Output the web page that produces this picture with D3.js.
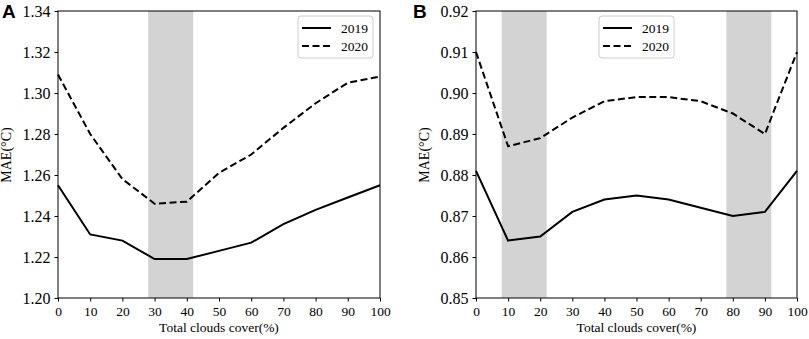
<!DOCTYPE html>
<html>
<head>
<meta charset="utf-8">
<script src="https://cdn.jsdelivr.net/npm/d3@7"></script>
<style>
  body { margin: 0; background: #fff; }
  svg text { font-family: "Liberation Serif", "Times New Roman", serif; fill: #000; }
  .panel-label { font-family: "Liberation Sans", Arial, sans-serif; font-weight: bold; }
</style>
</head>
<body>
<div id="chart"></div>
<script>
// cloud cover categories (%)
var cloudCover = [0, 10, 20, 30, 40, 50, 60, 70, 80, 90, 100];

// panel A
var maeA2019 = [1.255, 1.231, 1.228, 1.219, 1.219, 1.223, 1.227, 1.236, 1.243, 1.249, 1.255];
var maeA2020 = [1.309, 1.280, 1.258, 1.246, 1.247, 1.261, 1.270, 1.283, 1.295, 1.305, 1.308];
var ticksA = [1.20, 1.22, 1.24, 1.26, 1.28, 1.30, 1.32, 1.34];
var shadeA = [[28, 42]];

// panel B
var maeB2019 = [0.881, 0.864, 0.865, 0.871, 0.874, 0.875, 0.874, 0.872, 0.870, 0.871, 0.881];
var maeB2020 = [0.910, 0.887, 0.889, 0.894, 0.898, 0.899, 0.899, 0.898, 0.895, 0.890, 0.910];
var ticksB = [0.85, 0.86, 0.87, 0.88, 0.89, 0.90, 0.91, 0.92];
var shadeB = [[8, 22], [78, 92]];

var xTicks = [0, 10, 20, 30, 40, 50, 60, 70, 80, 90, 100];

var svg = d3.select("#chart").append("svg")
    .attr("width", 809)
    .attr("height", 339);

function drawPanel(opt) {
    var x = d3.scaleLinear().domain([0, 100]).range([opt.left, opt.right]);
    var y = d3.scaleLinear().domain([opt.yTicks[0], opt.yTicks[opt.yTicks.length - 1]]).range([298, 11]);
    var g = svg.append("g");

    // shaded spans
    g.selectAll("rect.shade").data(opt.shade).enter().append("rect")
        .attr("class", "shade")
        .attr("x", d => x(d[0]))
        .attr("width", d => x(d[1]) - x(d[0]))
        .attr("y", 11)
        .attr("height", 298 - 11)
        .attr("fill", "#d3d3d3");

    var line = d3.line().x((d, i) => x(cloudCover[i])).y(d => y(d));

    g.append("path").datum(opt.s2019)
        .attr("d", line).attr("fill", "none")
        .attr("stroke", "#000").attr("stroke-width", 2);
    g.append("path").datum(opt.s2020)
        .attr("d", line).attr("fill", "none")
        .attr("stroke", "#000").attr("stroke-width", 2)
        .attr("stroke-dasharray", "7,3.5");

    // frame
    g.append("rect")
        .attr("x", opt.left).attr("y", 11)
        .attr("width", opt.right - opt.left).attr("height", 298 - 11)
        .attr("fill", "none").attr("stroke", "#000").attr("stroke-width", 1);

    var xAxis = g.append("g")
        .attr("transform", "translate(0,298)")
        .call(d3.axisBottom(x).tickValues(xTicks).tickSize(3.5).tickPadding(5).tickFormat(d3.format("d")));
    xAxis.select(".domain").remove();
    xAxis.selectAll("text").style("font-size", "13.5px");

    var yAxis = g.append("g")
        .attr("transform", "translate(" + opt.left + ",0)")
        .call(d3.axisLeft(y).tickValues(opt.yTicks).tickSize(3.5).tickPadding(4).tickFormat(d3.format(".2f")));
    yAxis.select(".domain").remove();
    yAxis.selectAll("text").style("font-size", "16px");

    g.append("text")
        .attr("x", (opt.left + opt.right) / 2)
        .attr("y", 332)
        .attr("text-anchor", "middle")
        .style("font-size", "13.5px")
        .text("Total clouds cover(%)");

    g.append("text")
        .attr("transform", "translate(" + (opt.left - 47) + ",155) rotate(-90)")
        .attr("text-anchor", "middle")
        .style("font-size", "14px")
        .text("MAE(\u00B0C)");

    g.append("text")
        .attr("class", "panel-label")
        .attr("x", opt.labelX)
        .attr("y", 18)
        .style("font-size", "19px")
        .text(opt.label);

    // legend
    var lg = g.append("g").attr("transform", "translate(" + opt.legendX + ",16)");
    lg.append("rect")
        .attr("width", 75).attr("height", 42).attr("rx", 3)
        .attr("fill", "#fff").attr("stroke", "#ccc").attr("stroke-width", 1);
    var items = [{ name: "2019", dash: null }, { name: "2020", dash: "7,3.5" }];
    items.forEach(function (it, i) {
        var yy = 12 + i * 18;
        lg.append("line")
            .attr("x1", 4).attr("x2", 33).attr("y1", yy).attr("y2", yy)
            .attr("stroke", "#000").attr("stroke-width", 2)
            .attr("stroke-dasharray", it.dash);
        lg.append("text")
            .attr("x", 43).attr("y", yy + 4.5)
            .style("font-size", "13.5px")
            .text(it.name);
    });
}

drawPanel({ left: 58, right: 380, yTicks: ticksA, s2019: maeA2019, s2020: maeA2020,
    shade: shadeA, label: "A", labelX: 2, legendX: 298 });
drawPanel({ left: 476, right: 797, yTicks: ticksB, s2019: maeB2019, s2020: maeB2020,
    shade: shadeB, label: "B", labelX: 413, legendX: 599 });
</script>
</body>
</html>
